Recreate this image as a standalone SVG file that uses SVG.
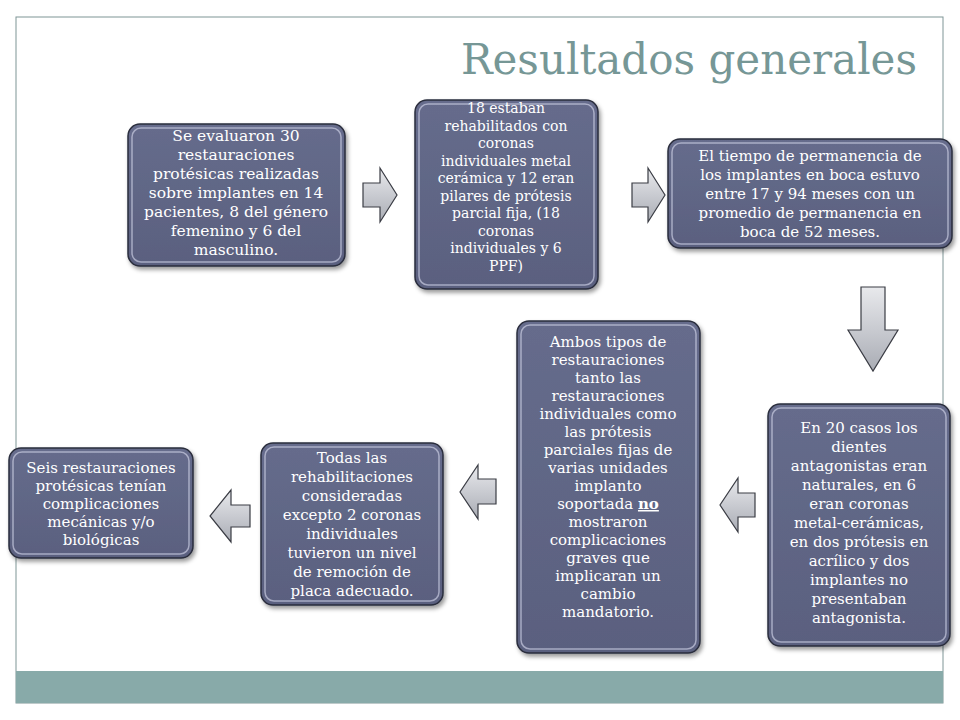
<svg xmlns="http://www.w3.org/2000/svg" width="960" height="720" viewBox="0 0 960 720">
<defs>
<linearGradient id="ag" x1="0" y1="0" x2="0" y2="1"><stop offset="0" stop-color="#e8e9ec"/><stop offset="0.5" stop-color="#c9cbd1"/><stop offset="1" stop-color="#a9acb4"/></linearGradient>
<linearGradient id="ng" x1="0" y1="0" x2="0" y2="1"><stop offset="0" stop-color="#666c8c"/><stop offset="1" stop-color="#5a607f"/></linearGradient>
<filter id="sh" x="-10%" y="-10%" width="130%" height="130%"><feDropShadow dx="2" dy="3" stdDeviation="2" flood-color="#000" flood-opacity="0.4"/></filter>
</defs>
<style>
.box{fill:url(#ng);stroke:#2a2d3c;stroke-width:1.5;filter:url(#sh)}
.inner{fill:none;stroke:#c8cbe0;stroke-width:1.5;opacity:0.7}
.t{font-family:"DejaVu Serif","Liberation Serif",serif;fill:#fff;text-anchor:middle}
.arr{fill:url(#ag);stroke:#3a3c44;stroke-width:1.2}
</style>
<rect x="0" y="0" width="960" height="720" fill="#fff"/>
<rect x="16" y="17" width="927" height="686" fill="none" stroke="#7f9596" stroke-width="1"/>
<rect x="16" y="671" width="927" height="32" fill="#88aaa9"/>
<text x="917" y="74" font-family="Georgia,'DejaVu Serif','Liberation Serif',serif" font-size="42" fill="#769796" text-anchor="end">Resultados generales</text>

<g id="connectors">
<path class="arr" d="M363,183 H380 V168 L397,195 L380,222 V207 H363 Z"/>
<path class="arr" d="M632,183 H648 V168 L665,195 L648,222 V207 H632 Z"/>
<path class="arr" d="M861,287 H885 V330 H898 L873,371 L848,330 H861 Z"/>
<path class="arr" d="M755,493 H738 V478 L720,505 L738,532 V517 H755 Z"/>
<path class="arr" d="M496,479 H478 V465 L460,492 L478,519 V504 H496 Z"/>
<path class="arr" d="M250,505 H231 V490 L210,516 L231,542 V527 H250 Z"/>
</g>

<g id="n1"><rect class="box" x="128" y="124" width="217" height="142" rx="12"/><rect class="inner" x="132" y="128" width="209" height="134" rx="9"/>
<text class="t" font-size="15.5"><tspan x="236" y="141">Se evaluaron 30</tspan><tspan x="236" y="160">restauraciones</tspan><tspan x="236" y="179">protésicas realizadas</tspan><tspan x="236" y="198">sobre implantes en 14</tspan><tspan x="236" y="217">pacientes, 8 del género</tspan><tspan x="236" y="236">femenino y 6 del</tspan><tspan x="236" y="255">masculino.</tspan></text></g>

<g id="n2"><rect class="box" x="415" y="100" width="183" height="189" rx="12"/><rect class="inner" x="419" y="104" width="175" height="181" rx="9"/>
<text class="t" font-size="14"><tspan x="506" y="113">18 estaban</tspan><tspan x="506" y="130.5">rehabilitados con</tspan><tspan x="506" y="148">coronas</tspan><tspan x="506" y="165.5">individuales  metal</tspan><tspan x="506" y="183">cerámica y 12 eran</tspan><tspan x="506" y="200.5">pilares de prótesis</tspan><tspan x="506" y="218">parcial fija, (18</tspan><tspan x="506" y="235.5">coronas</tspan><tspan x="506" y="253">individuales  y 6</tspan><tspan x="506" y="270.5">PPF)</tspan></text></g>

<g id="n3"><rect class="box" x="668" y="139" width="284" height="109" rx="12"/><rect class="inner" x="672" y="143" width="276" height="101" rx="9"/>
<text class="t" font-size="15"><tspan x="810" y="161">El tiempo de permanencia de</tspan><tspan x="810" y="180">los implantes en boca estuvo</tspan><tspan x="810" y="199">entre 17 y 94 meses con un</tspan><tspan x="810" y="218">promedio de permanencia en</tspan><tspan x="810" y="237">boca de 52 meses.</tspan></text></g>

<g id="n4"><rect class="box" x="768" y="404" width="182" height="242" rx="12"/><rect class="inner" x="772" y="408" width="174" height="234" rx="9"/>
<text class="t" font-size="15"><tspan x="859" y="433">En 20 casos los</tspan><tspan x="859" y="452">dientes</tspan><tspan x="859" y="471">antagonistas eran</tspan><tspan x="859" y="490">naturales, en 6</tspan><tspan x="859" y="509">eran coronas</tspan><tspan x="859" y="528">metal-cerámicas,</tspan><tspan x="859" y="547">en dos prótesis en</tspan><tspan x="859" y="566">acrílico y dos</tspan><tspan x="859" y="585">implantes no</tspan><tspan x="859" y="604">presentaban</tspan><tspan x="859" y="623">antagonista.</tspan></text></g>

<g id="n5"><rect class="box" x="517" y="321" width="183" height="332" rx="12"/><rect class="inner" x="521" y="325" width="175" height="324" rx="9"/>
<text class="t" font-size="15"><tspan x="608" y="347">Ambos tipos de</tspan><tspan x="608" y="365">restauraciones</tspan><tspan x="608" y="383">tanto las</tspan><tspan x="608" y="401">restauraciones</tspan><tspan x="608" y="419">individuales  como</tspan><tspan x="608" y="437">las prótesis</tspan><tspan x="608" y="455">parciales fijas de</tspan><tspan x="608" y="473">varias unidades</tspan><tspan x="608" y="491">implanto</tspan><tspan x="608" y="509">soportada <tspan font-weight="bold" text-decoration="underline">no</tspan></tspan><tspan x="608" y="527">mostraron</tspan><tspan x="608" y="545">complicaciones</tspan><tspan x="608" y="563">graves que</tspan><tspan x="608" y="581">implicaran un</tspan><tspan x="608" y="599">cambio</tspan><tspan x="608" y="617">mandatorio.</tspan></text></g>

<g id="n6"><rect class="box" x="261" y="443" width="182" height="162" rx="12"/><rect class="inner" x="265" y="447" width="174" height="154" rx="9"/>
<text class="t" font-size="15"><tspan x="352" y="463">Todas las</tspan><tspan x="352" y="482">rehabilitaciones</tspan><tspan x="352" y="501">consideradas</tspan><tspan x="352" y="520">excepto 2 coronas</tspan><tspan x="352" y="539">individuales</tspan><tspan x="352" y="558">tuvieron un nivel</tspan><tspan x="352" y="577">de remoción de</tspan><tspan x="352" y="596">placa adecuado.</tspan></text></g>

<g id="n7"><rect class="box" x="9" y="448" width="184" height="110" rx="12"/><rect class="inner" x="13" y="452" width="176" height="102" rx="9"/>
<text class="t" font-size="15"><tspan x="101" y="473">Seis  restauraciones</tspan><tspan x="101" y="491">protésicas tenían</tspan><tspan x="101" y="509">complicaciones</tspan><tspan x="101" y="527">mecánicas y/o</tspan><tspan x="101" y="545">biológicas</tspan></text></g>
</svg>
